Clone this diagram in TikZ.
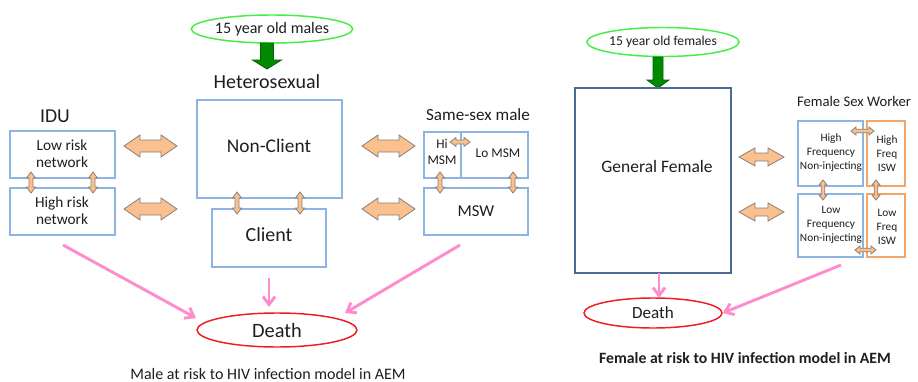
\documentclass[tikz,border=0pt]{standalone}
\usepackage{fontspec}
\setmainfont{Carlito}
\usetikzlibrary{shapes.geometric,arrows.meta}
\newcommand\pxu{0.75pt}
\newcommand\fsz[2]{\fontsize{#1}{#2}\selectfont}
\definecolor{boxblue}{HTML}{8DB4E2}
\definecolor{boxdark}{HTML}{4A6B94}
\definecolor{boxorange}{HTML}{F2A66A}
\definecolor{arrfill}{HTML}{FAC090}
\definecolor{arrline}{HTML}{8A8078}
\definecolor{pinkc}{HTML}{FF8CCB}
\definecolor{greenell}{HTML}{44EE44}
\definecolor{garrfill}{HTML}{008A00}
\definecolor{garrline}{HTML}{006400}
\definecolor{redell}{HTML}{EE1C24}
\definecolor{textc}{HTML}{1E1E1E}
% horizontal double arrow: x1, x2, y, shaft half, head half, head length
\newcommand\mkhdarr[6]{\draw[darr] (#1,#3) -- ({#1+#6},{#3-#5}) -- ({#1+#6},{#3-#4}) -- ({#2-#6},{#3-#4}) -- ({#2-#6},{#3-#5}) -- (#2,#3) -- ({#2-#6},{#3+#5}) -- ({#2-#6},{#3+#4}) -- ({#1+#6},{#3+#4}) -- ({#1+#6},{#3+#5}) -- cycle;}
% vertical double arrow: y1, y2, x, shaft half, head half, head length
\newcommand\mkvdarr[6]{\draw[darr] (#3,#1) -- ({#3-#5},{#1+#6}) -- ({#3-#4},{#1+#6}) -- ({#3-#4},{#2-#6}) -- ({#3-#5},{#2-#6}) -- (#3,#2) -- ({#3+#5},{#2-#6}) -- ({#3+#4},{#2-#6}) -- ({#3+#4},{#1+#6}) -- ({#3+#5},{#1+#6}) -- cycle;}
% green down arrow: x, y1, y2, yhead, shaft half, head half
\newcommand\mkgarr[6]{\draw[garr] ({#1-#5},#2) -- ({#1+#5},#2) -- ({#1+#5},#4) -- ({#1+#6},#4) -- (#1,#3) -- ({#1-#6},#4) -- ({#1-#5},#4) -- cycle;}
\begin{document}
\begin{tikzpicture}[x=0.75pt,y=-0.75pt,
  txt/.style={inner sep=0pt, text=textc, align=center},
  box/.style={draw=boxblue, line width=0.9pt, inner sep=0pt},
  dbox/.style={draw=boxdark, line width=1.1pt, inner sep=0pt},
  obox/.style={draw=boxorange, line width=0.9pt, inner sep=0pt},
  bx/.style 2 args={minimum width=#1*\pxu, minimum height=#2*\pxu},
  gell/.style={ellipse, draw=greenell, line width=1.1pt, inner sep=0pt, text=textc},
  rell/.style={ellipse, draw=redell, line width=1.1pt, inner sep=0pt, text=textc},
  darr/.style={fill=arrfill, draw=arrline, line width=0.6pt, line join=miter},
  garr/.style={fill=garrfill, draw=garrline, line width=0.6pt},
  parr/.style={draw=pinkc, line width=2.2pt, -{Straight Barb[length=6pt,width=9pt]}}
]
\useasboundingbox (0,0) rectangle (918,382);

% ---------------- Male panel ----------------
\node[gell, bx={161}{28}, font=\fsz{12}{14}] (males) at (272,29) {15 year old males};
\mkgarr{267}{43}{69}{60}{6.5}{14.5}
\node[txt, font=\fsz{15}{18}] (hetero) at (267,82) {Heterosexual};

\node[box, bx={145}{98}] (noncl) at (269.5,149) {};
\node[txt, font=\fsz{14.5}{17}] (nonclt) at (269,146) {Non-Client};
\node[box, bx={114}{58}] (client) at (269,238) {};
\node[txt, font=\fsz{15}{18}] (clientt) at (269,234.5) {Client};

\node[txt, font=\fsz{14.8}{18}] (idu) at (55,116) {IDU};
\node[box, bx={105}{47}] (lowr) at (62.5,154.5) {};
\node[txt, font=\fsz{11.5}{12.5}] (lowrt) at (62,154) {Low risk\\network};
\node[box, bx={105}{47}] (highr) at (62.5,211.5) {};
\node[txt, font=\fsz{11.5}{12.5}] (highrt) at (62,211) {High risk\\network};

\node[txt, font=\fsz{12.8}{15}] (ssm) at (478,115) {Same-sex male};
\node[box, bx={37}{46}] (himsm) at (442.5,155) {};
\node[txt, font=\fsz{10}{12.5}] (himsmt) at (442,152) {Hi\\MSM};
\node[box, bx={67}{46}] (lomsm) at (494.5,155) {};
\node[txt, font=\fsz{10}{12}] (lomsmt) at (498,153) {Lo MSM};
\node[box, bx={104}{47}] (msw) at (476,211.5) {};
\node[txt, font=\fsz{12.5}{15}] (mswt) at (476,211) {MSW};

% double arrows (male)
\mkhdarr{124}{177}{146}{6}{11}{16}
\mkhdarr{124}{177}{209}{6}{11}{16}
\mkhdarr{362}{415}{146}{6}{11}{16}
\mkhdarr{362}{415}{209}{6}{11}{16}
\mkvdarr{172}{193}{31}{2}{4.5}{6}
\mkvdarr{172}{193}{93}{2}{4.5}{6}
\mkvdarr{192}{214}{237}{2}{4.5}{6}
\mkvdarr{192}{214}{300}{2}{4.5}{6}
\mkvdarr{172}{193}{440}{2}{4.5}{6}
\mkvdarr{172}{193}{513}{2}{4.5}{6}
\mkhdarr{450}{470}{142}{2}{4.5}{6}

\node[rell, bx={160}{34}, font=\fsz{15.3}{18}] (death1) at (277,330) {Death};
\coordinate (p1s) at (63,245);
\coordinate (p1e) at (196,318);
\coordinate (p2s) at (269,278);
\coordinate (p2e) at (269,307);
\coordinate (p3s) at (460,245);
\coordinate (p3e) at (345,313);
\draw[parr] (p1s) -- (p1e);
\draw[parr] (p2s) -- (p2e);
\draw[parr] (p3s) -- (p3e);
\node[txt, font=\fsz{12}{14}] (cap1) at (268,374) {Male at risk to HIV infection model in AEM};

% ---------------- Female panel ----------------
\node[gell, bx={138}{29}, font=\fsz{10.2}{12}] (females) at (663,42) {15 year old females};
\mkgarr{658}{57}{88}{80}{5}{11}
\node[dbox, bx={156}{185}] (genfem) at (653,180.5) {};
\node[txt, font=\fsz{13.1}{16}] (genfemt) at (657,166) {General Female};

\node[txt, font=\fsz{11}{13}] (fsw) at (854,101) {Female Sex Worker};
\node[box, bx={65}{65}] (hfni) at (830.5,153.5) {};
\node[txt, font=\fsz{8.5}{10.5}] (hfnit) at (831,153) {High\\Frequency\\Non-injecting};
\node[obox, bx={38}{65}] (hfisw) at (886,153.5) {};
\node[txt, font=\fsz{8.5}{10.5}] (hfiswt) at (887,154) {High\\Freq\\ISW};
\node[box, bx={65}{63}] (lfni) at (830.5,225.5) {};
\node[txt, font=\fsz{8.5}{10.5}] (lfnit) at (831,225) {Low\\Frequency\\Non-injecting};
\node[obox, bx={38}{63}] (lfisw) at (886,225.5) {};
\node[txt, font=\fsz{8.5}{10.5}] (lfiswt) at (887,227) {Low\\Freq\\ISW};

\mkhdarr{739}{784}{157}{4}{9}{16}
\mkhdarr{739}{784}{212}{4}{9}{16}
\mkhdarr{851}{874}{131}{1.8}{4}{5}
\mkvdarr{180}{200}{823}{1.8}{4}{5}
\mkvdarr{180}{200}{876}{1.8}{4}{5}
\mkhdarr{855}{876}{250}{1.8}{4}{5}

\node[rell, bx={138}{30}, font=\fsz{12.8}{15}] (death2) at (653,313) {Death};
\coordinate (q1s) at (659,273);
\coordinate (q1e) at (659,298);
\coordinate (q2s) at (841,265);
\draw[parr] (q1s) -- (q1e);
\draw[parr] (q2s) -- (death2.east);
\node[txt, font=\fsz{11.8}{14}\bfseries] (cap2) at (745,358) {Female at risk to HIV infection model in AEM};
\end{tikzpicture}
\end{document}
